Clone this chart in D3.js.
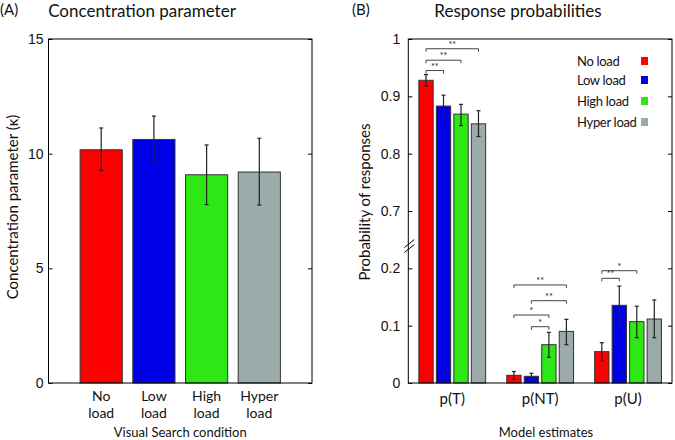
<!DOCTYPE html>
<html lang="en">
<head>
<meta charset="utf-8">
<script src="https://d3js.org/d3.v7.min.js"></script>
<style>
  body { margin: 0; background: #fff; }
  svg { display: block; font-family: Lato, "Open Sans", sans-serif; }
  .tick text { font-size: 14px; fill: #111; }
  .tick line { stroke: #000; }
</style>
</head>
<body>
<script>
// ---- data ----
var conditions = ["No load", "Low load", "High load", "Hyper load"];
var condLines = [["No", "load"], ["Low", "load"], ["High", "load"], ["Hyper", "load"]];
var colors = ["#ff0000", "#0000e6", "#2ee815", "#9aabaa"];

// panel A: concentration parameter (kappa)
var kappaMean = [10.17, 10.62, 9.08, 9.20];
var kappaLow = [9.26, 9.58, 7.78, 7.76];
var kappaHigh = [11.12, 11.64, 10.38, 10.67];
var kappaTicks = [0, 5, 10, 15];

// panel B: response probabilities, one array per model estimate
var estimates = ["p(T)", "p(NT)", "p(U)"];
var pTMean = [0.928, 0.883, 0.869, 0.852];
var pTLow = [0.918, 0.863, 0.849, 0.830];
var pTHigh = [0.938, 0.902, 0.886, 0.875];
var pNTMean = [0.0134, 0.0117, 0.0668, 0.090];
var pNTLow = [0.0064, 0.0064, 0.0448, 0.0668];
var pNTHigh = [0.020, 0.017, 0.0884, 0.111];
var pUMean = [0.0547, 0.1355, 0.107, 0.1116];
var pULow = [0.0384, 0.100, 0.079, 0.079];
var pUHigh = [0.0703, 0.169, 0.134, 0.1448];
var probTicks = [0, 0.1, 0.2, 0.7, 0.8, 0.9, 1];

// significance brackets: group, from bar, to bar, height, stars
var sigGroup = [0, 0, 0, 1, 1, 1, 1, 2, 2];
var sigFrom = [0, 0, 0, 0, 1, 0, 1, 0, 0];
var sigTo = [1, 2, 3, 3, 3, 2, 2, 1, 2];
var sigY = [0.945, 0.963, 0.983, 0.171, 0.1436, 0.1186, 0.0982, 0.1826, 0.1959];
var sigLabel = ["**", "**", "**", "**", "**", "*", "*", "**", "*"];

var svg = d3.select("body").append("svg")
    .attr("width", 675).attr("height", 440);
svg.append("rect").attr("width", 675).attr("height", 440).attr("fill", "#fff");

function errBars(g, xs, lows, highs, y) {
  xs.forEach(function(x, i) {
    var e = g.append("g").attr("stroke", "#222").attr("stroke-width", 1.2);
    e.append("line").attr("x1", x).attr("x2", x).attr("y1", y(lows[i])).attr("y2", y(highs[i]));
    e.append("line").attr("x1", x - 2).attr("x2", x + 2).attr("y1", y(lows[i])).attr("y2", y(lows[i]));
    e.append("line").attr("x1", x - 2).attr("x2", x + 2).attr("y1", y(highs[i])).attr("y2", y(highs[i]));
  });
}

// ================= Panel A =================
var A = {left: 48.5, right: 312, top: 39, bottom: 383};
var xA = d3.scaleLinear().domain([0, 5]).range([A.left, A.right]);
var yA = d3.scaleLinear().domain([0, 15]).range([A.bottom, A.top]);
var gA = svg.append("g");

gA.selectAll(".barA").data(kappaMean).enter().append("rect")
    .attr("x", function(d, i) { return xA(i + 1 - 0.4); })
    .attr("width", xA(0.8) - xA(0))
    .attr("y", function(d) { return yA(d); })
    .attr("height", function(d) { return yA(0) - yA(d); })
    .attr("fill", function(d, i) { return colors[i]; })
    .attr("stroke", "#333").attr("stroke-width", 1);

errBars(gA, kappaMean.map(function(d, i) { return xA(i + 1); }), kappaLow, kappaHigh, yA);

gA.append("rect").attr("x", A.left).attr("y", A.top)
    .attr("width", A.right - A.left).attr("height", A.bottom - A.top)
    .attr("fill", "none").attr("stroke", "#000");

gA.append("g").attr("transform", "translate(" + A.left + ",0)")
    .call(d3.axisLeft(yA).tickValues(kappaTicks).tickSize(-4).tickSizeOuter(0).tickPadding(5))
    .call(function(g) { g.select(".domain").remove(); g.selectAll("text").attr("font-family", null); });
gA.append("g").attr("transform", "translate(" + A.right + ",0)")
    .call(d3.axisRight(yA).tickValues(kappaTicks).tickSize(-4).tickSizeOuter(0).tickFormat(""))
    .call(function(g) { g.select(".domain").remove(); });

condLines.forEach(function(lines, i) {
  var t = gA.append("text").attr("text-anchor", "middle").attr("font-size", 14).attr("fill", "#111");
  t.append("tspan").attr("x", xA(i + 1)).attr("y", 401).text(lines[0]);
  t.append("tspan").attr("x", xA(i + 1)).attr("y", 418).text(lines[1]);
});

gA.append("text").attr("x", (A.left + A.right) / 2).attr("y", 437)
    .attr("text-anchor", "middle").attr("font-size", 13).attr("fill", "#111")
    .text("Visual Search condition");
gA.append("text").attr("transform", "translate(18,207) rotate(-90)")
    .attr("text-anchor", "middle").attr("font-size", 15).attr("fill", "#111")
    .text("Concentration parameter (\u03ba)");
svg.append("text").attr("x", 0).attr("y", 15).attr("font-size", 15).attr("fill", "#111").text("(A)");
svg.append("text").attr("x", 142).attr("y", 17).attr("text-anchor", "middle")
    .attr("font-size", 17).attr("fill", "#111").text("Concentration parameter");

// ================= Panel B =================
var B = {left: 408.3, right: 672, top: 39, bottom: 383};
var xB = d3.scaleLinear().domain([0.5, 3.5]).range([B.left, B.right]);
// broken axis: 0..0.25 and 0.65..1 share one continuous run
var yB = d3.scaleLinear().domain([0, 0.25, 0.65, 1])
    .range([B.bottom, B.bottom - 0.25 * 573.3, B.bottom - 0.25 * 573.3, B.top]);
var barStep = 0.199, barW = 0.163;
var means = [pTMean, pNTMean, pUMean];
var lows = [pTLow, pNTLow, pULow];
var highs = [pTHigh, pNTHigh, pUHigh];
var gB = svg.append("g");

function barX(grp, i) { return xB(grp + 1 + (i - 1.5) * barStep); }

means.forEach(function(vals, grp) {
  gB.append("g").selectAll("rect").data(vals).enter().append("rect")
      .attr("x", function(d, i) { return barX(grp, i) - (xB(barW) - xB(0)) / 2; })
      .attr("width", xB(barW) - xB(0))
      .attr("y", function(d) { return yB(d); })
      .attr("height", function(d) { return yB(0) - yB(d); })
      .attr("fill", function(d, i) { return colors[i]; })
      .attr("stroke", "#333").attr("stroke-width", 1);
  errBars(gB, vals.map(function(d, i) { return barX(grp, i); }), lows[grp], highs[grp], yB);
});

gB.append("rect").attr("x", B.left).attr("y", B.top)
    .attr("width", B.right - B.left).attr("height", B.bottom - B.top)
    .attr("fill", "none").attr("stroke", "#000");

gB.append("g").attr("transform", "translate(" + B.left + ",0)")
    .call(d3.axisLeft(yB).tickValues(probTicks).tickSize(-4).tickSizeOuter(0).tickPadding(8)
      .tickFormat(function(d) { return d === 0 ? "0" : d === 1 ? "1" : d3.format(".1f")(d); }))
    .call(function(g) { g.select(".domain").remove(); });
gB.append("g").attr("transform", "translate(" + B.right + ",0)")
    .call(d3.axisRight(yB).tickValues(probTicks).tickSize(-4).tickSizeOuter(0).tickFormat(""))
    .call(function(g) { g.select(".domain").remove(); });

// axis break marks
var yBreak = yB(0.238);
[-3, 2].forEach(function(off) {
  gB.append("line").attr("x1", B.left - 4).attr("y1", yBreak + off + 4)
      .attr("x2", B.left + 6).attr("y2", yBreak + off - 4)
      .attr("stroke", "#000").attr("stroke-width", 1);
});

// significance brackets
sigGroup.forEach(function(grp, k) {
  var x1 = barX(grp, sigFrom[k]), x2 = barX(grp, sigTo[k]), y = yB(sigY[k]);
  gB.append("path")
      .attr("d", "M" + x1 + "," + (y + 3) + "V" + y + "H" + x2 + "V" + (y + 3))
      .attr("fill", "none").attr("stroke", "#444").attr("stroke-width", 1);
  gB.append("text").attr("x", (x1 + x2) / 2).attr("y", y - 1)
      .attr("text-anchor", "middle").attr("font-size", 9).attr("fill", "#222")
      .text(sigLabel[k]);
});

estimates.forEach(function(e, i) {
  gB.append("text").attr("x", xB(i + 1)).attr("y", 404).attr("text-anchor", "middle")
      .attr("font-size", 15).attr("fill", "#111").text(e);
});

// legend
conditions.forEach(function(c, i) {
  var ly = [61, 80, 101, 122][i];
  gB.append("text").attr("x", 577).attr("y", ly + 5).attr("font-size", 13)
      .attr("letter-spacing", "-0.3px").attr("fill", "#111").text(c);
  gB.append("rect").attr("x", 641).attr("y", ly - 4).attr("width", 7).attr("height", 8)
      .attr("fill", colors[i]);
});

gB.append("text").attr("x", 546).attr("y", 437)
    .attr("text-anchor", "middle").attr("font-size", 13).attr("fill", "#111")
    .text("Model estimates");
gB.append("text").attr("transform", "translate(370,202) rotate(-90)")
    .attr("text-anchor", "middle").attr("font-size", 15).attr("fill", "#111")
    .text("Probability of responses");
svg.append("text").attr("x", 352).attr("y", 15).attr("font-size", 15).attr("fill", "#111").text("(B)");
svg.append("text").attr("x", 518).attr("y", 17).attr("text-anchor", "middle")
    .attr("font-size", 17).attr("fill", "#111").text("Response probabilities");
</script>
</body>
</html>
